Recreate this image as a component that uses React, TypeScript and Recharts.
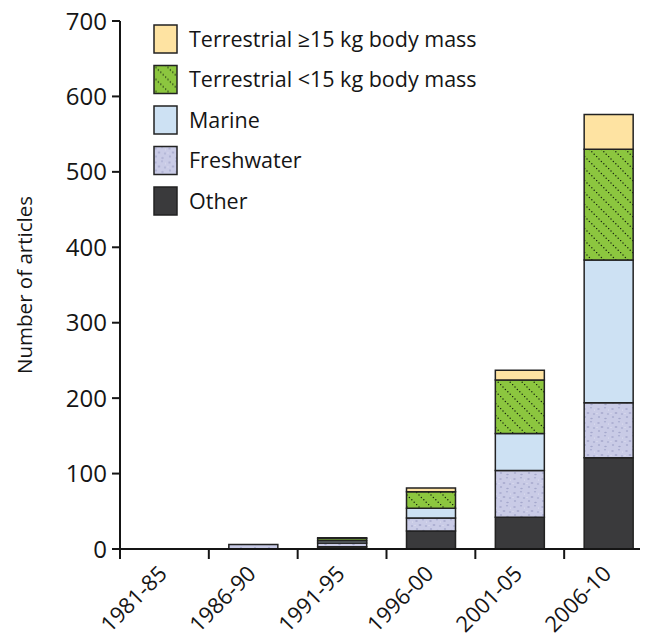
import React from 'react';
import { BarChart, Bar, XAxis, YAxis, Legend } from 'recharts';

const periods = ['1981-85', '1986-90', '1991-95', '1996-00', '2001-05', '2006-10'];
const otherVals = [0, 0, 3, 24, 42, 121];
const freshwaterVals = [0, 6, 5, 17, 62, 73];
const marineVals = [0, 0, 3, 13, 49, 189];
const terrSmallVals = [0, 0, 3, 22, 71, 147];
const terrLargeVals = [0, 0, 1, 5, 13, 46];
const yTicks = [0, 100, 200, 300, 400, 500, 600, 700];

const seriesKeys = ['other', 'freshwater', 'marine', 'terrSmall', 'terrLarge'];
const seriesNames: Record<string, string> = {
  terrLarge: 'Terrestrial \u226515 kg body mass',
  terrSmall: 'Terrestrial <15 kg body mass',
  marine: 'Marine',
  freshwater: 'Freshwater',
  other: 'Other',
};
const seriesFills: Record<string, string> = {
  terrLarge: '#fee3a2',
  terrSmall: 'url(#greenDots)',
  marine: '#cde1f3',
  freshwater: 'url(#freshSpeckle)',
  other: '#3a3a3c',
};
const legendOrder = ['terrLarge', 'terrSmall', 'marine', 'freshwater', 'other'];

const data = periods.map((p, i) => ({
  period: p,
  other: otherVals[i],
  freshwater: freshwaterVals[i],
  marine: marineVals[i],
  terrSmall: terrSmallVals[i],
  terrLarge: terrLargeVals[i],
}));

const FONT = '"Open Sans", "Noto Sans", sans-serif';
const CHART_W = 648;
const CHART_H = 643;
const TOP = 21;
const PLOT_H = 528;
const Y_W = 112;
const RIGHT = 3;
const HALF = (CHART_W - Y_W - RIGHT) / periods.length / 2;
const INK = '#151515';

const XTick = (props: any) => {
  const { x, y, payload, index } = props;
  const tx = x + 4;
  const ty = y + 26;
  return (
    <g>
      <line x1={x - HALF} y1={y} x2={x - HALF} y2={y + 10} stroke={INK} strokeWidth={2} />
      {index === periods.length - 1 && (
        <line x1={x + HALF} y1={y} x2={x + HALF} y2={y + 10} stroke={INK} strokeWidth={2} />
      )}
      <text
        x={tx}
        y={ty}
        transform={`rotate(-45 ${tx} ${ty})`}
        textAnchor="end"
        fontSize={22}
        fill={INK}
        fontFamily={FONT}
      >
        {payload.value}
      </text>
    </g>
  );
};

const renderLegend = () => (
  <svg width={380} height={210} style={{ display: 'block', overflow: 'visible' }}>
    {legendOrder.map((k, i) => (
      <g key={k} transform={`translate(0, ${i * 40.5})`}>
        <rect x={1} y={1} width={23} height={28} fill={seriesFills[k]} stroke="#222" strokeWidth={1.5} />
        <text x={36} y={15} dy="0.36em" fontSize={21.5} fill={INK} fontFamily={FONT}>
          {seriesNames[k]}
        </text>
      </g>
    ))}
  </svg>
);

export default function App() {
  return (
    <div style={{ fontFamily: FONT, marginTop: -8 }}>
      <BarChart
        width={CHART_W}
        height={CHART_H}
        data={data}
        margin={{ top: TOP, right: RIGHT, left: 0, bottom: 0 }}
      >
        <defs>
          <pattern id="greenDots" patternUnits="userSpaceOnUse" width={12} height={12}>
            <rect x={0} y={0} width={12} height={12} fill="#8cc63f" />
            <circle cx={0.6} cy={0.6} r={0.75} fill="#1a2a10" />
            <circle cx={3} cy={3} r={0.75} fill="#1a2a10" />
            <circle cx={5.4} cy={5.4} r={0.75} fill="#1a2a10" />
            <circle cx={7.8} cy={7.8} r={0.75} fill="#1a2a10" />
            <circle cx={10.2} cy={10.2} r={0.75} fill="#1a2a10" />
          </pattern>
          <pattern id="freshSpeckle" patternUnits="userSpaceOnUse" width={14} height={14}>
            <rect x={0} y={0} width={14} height={14} fill="#c9cbe6" />
            <ellipse cx={2.5} cy={3} rx={1.3} ry={0.8} fill="#a3a6cb" />
            <ellipse cx={9} cy={1.8} rx={1.1} ry={0.7} fill="#a9acd0" />
            <ellipse cx={6} cy={7} rx={1.4} ry={0.8} fill="#9fa2c8" />
            <ellipse cx={12} cy={8} rx={1.1} ry={0.8} fill="#a7aacf" />
            <ellipse cx={3} cy={11} rx={1.2} ry={0.7} fill="#a2a5ca" />
            <ellipse cx={9.5} cy={12.5} rx={1.3} ry={0.8} fill="#a5a8cc" />
            <circle cx={12.5} cy={4} r={0.5} fill="#e6e7f4" />
            <circle cx={1} cy={7.5} r={0.5} fill="#e6e7f4" />
          </pattern>
        </defs>
        <XAxis
          dataKey="period"
          interval={0}
          height={CHART_H - TOP - PLOT_H}
          tickSize={0}
          tickMargin={0}
          tickLine={false}
          axisLine={{ stroke: INK, strokeWidth: 2 }}
          tick={<XTick />}
        />
        <YAxis
          domain={[0, 700]}
          ticks={yTicks}
          interval={0}
          width={Y_W}
          tickSize={8}
          tickMargin={5}
          axisLine={{ stroke: INK, strokeWidth: 2 }}
          tickLine={{ stroke: INK, strokeWidth: 2 }}
          tick={{ fontSize: 24, fill: INK, fontFamily: FONT }}
          label={{
            value: 'Number of articles',
            angle: -90,
            position: 'insideLeft',
            offset: 17,
            style: { textAnchor: 'middle', fontSize: 20.5, fill: INK, fontFamily: FONT },
          }}
        />
        <Legend
          layout="vertical"
          align="center"
          verticalAlign="middle"
          content={renderLegend}
          wrapperStyle={{ left: 145, top: 24, width: 380, height: 210 }}
        />
        {seriesKeys.map((k) => (
          <Bar
            key={k}
            dataKey={k}
            name={seriesNames[k]}
            stackId="a"
            barSize={49}
            fill={seriesFills[k]}
            stroke="#222"
            strokeWidth={1.5}
            isAnimationActive={false}
          />
        ))}
      </BarChart>
    </div>
  );
}
